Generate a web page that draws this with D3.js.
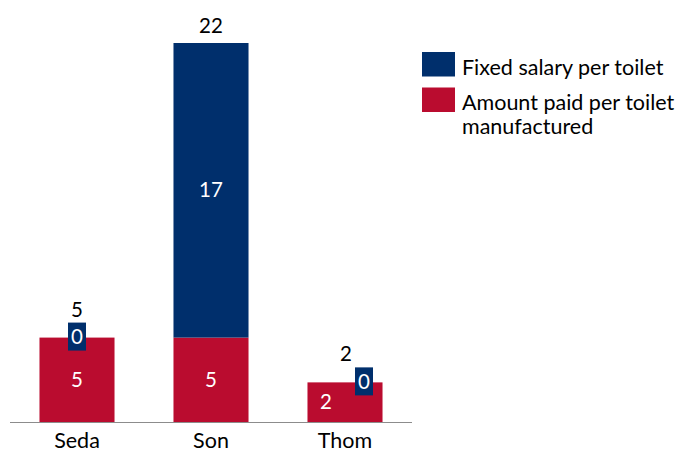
<!DOCTYPE html>
<html><head><meta charset="utf-8">
<script src="https://cdn.jsdelivr.net/npm/d3@7"></script>
<style>body{margin:0;background:#fff;}svg{display:block;font-family:Lato,"Open Sans",sans-serif;}</style>
</head><body><svg id="c" width="685" height="453"></svg>
<script>
const categories = ["Seda", "Son", "Thom"];
const seriesNames = ["Amount paid per toilet manufactured", "Fixed salary per toilet"];
const amountPaid = [4.9, 4.9, 2.3];
const fixedSalary = [0, 17.1, 0];
const colors = {paid: "#ba0c2f", fixed: "#002f6c"};

const svg = d3.select("#c");
const baseY = 422;
const x = d3.scaleBand().domain(categories).range([10, 412]).paddingInner(0.44).paddingOuter(0.22);
const y = d3.scaleLinear().domain([0, 22]).range([baseY, 43]);
const fmt = d3.format(".0f");

const data = categories.map((c, i) => ({c, paid: amountPaid[i], fixed: fixedSalary[i], total: amountPaid[i] + fixedSalary[i]}));

// bars
svg.append("g").selectAll("rect.paid").data(data).join("rect")
  .attr("x", d => x(d.c)).attr("width", x.bandwidth())
  .attr("y", d => y(d.paid)).attr("height", d => y(0) - y(d.paid))
  .attr("fill", colors.paid);
svg.append("g").selectAll("rect.fixed").data(data.filter(d => d.fixed > 0)).join("rect")
  .attr("x", d => x(d.c)).attr("width", x.bandwidth())
  .attr("y", d => y(d.total)).attr("height", d => y(d.paid) - y(d.total))
  .attr("fill", colors.fixed);

// axis line
svg.append("line").attr("x1", 10).attr("x2", 412).attr("y1", baseY + 0.5).attr("y2", baseY + 0.5)
  .attr("stroke", "#8c8c8c").attr("stroke-width", 1);

// category labels
svg.append("g").selectAll("text").data(categories).join("text")
  .attr("x", d => x(d) + x.bandwidth() / 2).attr("y", 448)
  .attr("text-anchor", "middle").attr("font-size", 21.5).attr("fill", "#000").text(d => d);

const fs = 20.5;
// in-bar labels & zero boxes
data.forEach((d, i) => {
  const cx = x(d.c) + x.bandwidth() / 2;
  const small = (y(0) - y(d.paid)) < 60;
  svg.append("text").attr("x", small ? cx - 19 : cx).attr("y", (y(0) + y(d.paid)) / 2 + 7)
    .attr("text-anchor", "middle").attr("font-size", fs).attr("fill", "#fff").text(fmt(d.paid));
  if (d.fixed > 0) {
    svg.append("text").attr("x", cx).attr("y", (y(d.paid) + y(d.total)) / 2 + 7)
      .attr("text-anchor", "middle").attr("font-size", fs).attr("fill", "#fff").text(fmt(d.fixed));
  } else {
    const bx = small ? cx + 19 : cx;
    const by = y(d.paid);
    svg.append("rect").attr("x", bx - 9).attr("y", by - 15).attr("width", 18).attr("height", 28)
      .attr("fill", colors.fixed);
    svg.append("text").attr("x", bx).attr("y", by + 6.5)
      .attr("text-anchor", "middle").attr("font-size", fs).attr("fill", "#fff").text(fmt(d.fixed));
  }
  const ty = d.fixed > 0 ? y(d.total) - 10 : y(d.paid) - 21;
  svg.append("text").attr("x", small ? cx + 1 : cx).attr("y", ty)
    .attr("text-anchor", "middle").attr("font-size", fs).attr("fill", "#000").text(fmt(d.total));
});

// legend
const legend = [
  {name: seriesNames[1], color: colors.fixed, lines: ["Fixed salary per toilet"]},
  {name: seriesNames[0], color: colors.paid, lines: ["Amount paid per toilet", "manufactured"]}
];
const lg = svg.append("g");
legend.forEach((l, i) => {
  const top = 52 + i * 35.5;
  lg.append("rect").attr("x", 422).attr("y", top).attr("width", 33).attr("height", 24.5).attr("fill", l.color);
  l.lines.forEach((t, j) => {
    lg.append("text").attr("x", 462).attr("y", top + 22.5 + j * 24)
      .attr("font-size", 21.5).attr("fill", "#000").text(t);
  });
});
</script></body></html>
